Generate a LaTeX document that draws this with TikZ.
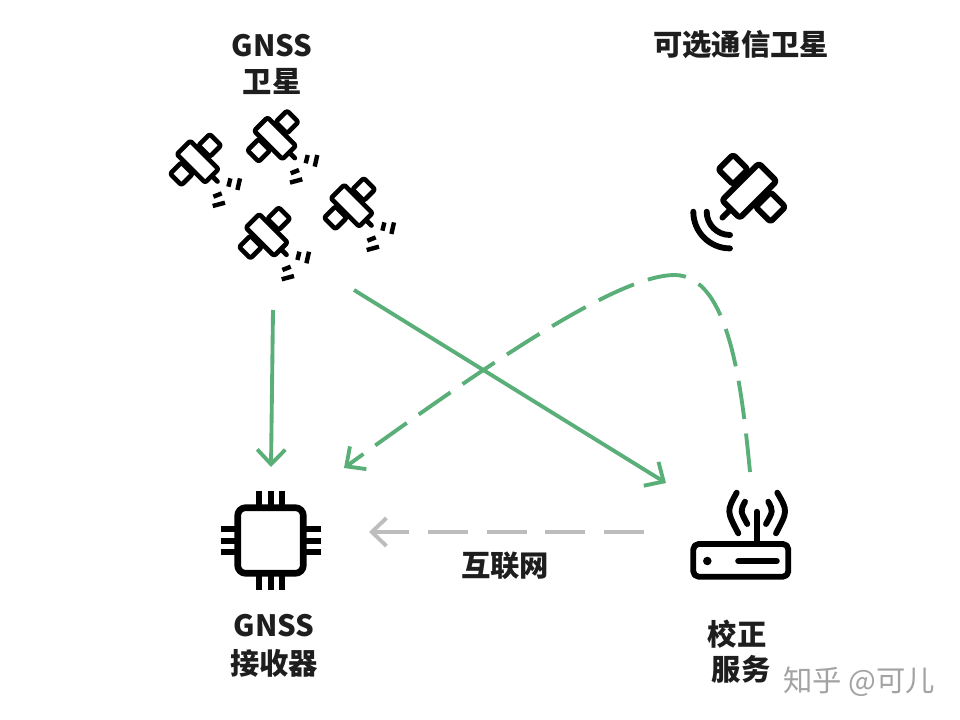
\documentclass[tikz,border=0pt]{standalone}
\usepackage{fontspec}
\setmainfont{Noto Sans CJK SC}
\usetikzlibrary{arrows.meta}
\definecolor{linkgreen}{HTML}{5AAF78}
\definecolor{linkgray}{HTML}{BDBDBD}
\definecolor{inkdark}{HTML}{1E1E1E}
\tikzset{
  icon/.style={draw=black,line width=3.5pt,line join=round,fill=white,rounded corners=1.6pt},
  iconbig/.style={draw=black,line width=4.4pt,line join=round,fill=white,rounded corners=2pt},
  iconline/.style={draw=black,line width=3.5pt,line cap=round},
  iconlinebig/.style={draw=black,line width=4.4pt,line cap=round},
  pin/.style={draw=black,line width=4.6pt},
  tick/.style={draw=black,line width=3.3pt},
  lbl/.style={font=\bfseries\fontsize{22}{26}\selectfont,text=inkdark,inner sep=0pt},
  barb/.tip={Straight Barb[length=11pt,width=21pt,line width=2.9pt]},
  solidlink/.style={draw=linkgreen,line width=2.9pt,-{barb}},
  dashlink/.style={draw=linkgreen,line width=2.9pt,dash pattern=on 29pt off 11pt,-{barb}},
  graylink/.style={draw=linkgray,line width=2.9pt,dash pattern=on 30pt off 14pt,-{barb}},
}
\newcommand{\gnsssat}[2]{%
  \begin{scope}[shift={(#1,#2)}]
    \begin{scope}[rotate=-45]
      \draw[iconline] (19,0) -- (28,0);
      \draw[icon] (-11,-28) rectangle (5,-12);
      \draw[icon] (-11,12) rectangle (5,28);
      \draw[icon] (-20,-9.5) rectangle (20,9.5);
    \end{scope}
    \draw[tick] (30.7,25) -- (32.7,16.7);
    \draw[tick] (39.7,28.3) -- (42.3,16.7);
    \draw[tick] (15.7,35) -- (24,31.7);
    \draw[tick] (15,44.3) -- (27.3,41);
  \end{scope}}
\begin{document}
\begin{tikzpicture}[x=0.75pt,y=-0.75pt]
\useasboundingbox (0,0) rectangle (960,720);
\fill[white] (0,0) rectangle (960,720);

% labels
\node[lbl] (gnssa) at (272,46) {GNSS};
\node[lbl] (gnssb) at (272,81) {卫星};
\node[lbl] (opt) at (741,45) {可选通信卫星};
\node[lbl] (recva) at (274,626) {GNSS};
\node[lbl] (recvb) at (274,663) {接收器};
\node[lbl] (cora) at (737,634) {校正};
\node[lbl] (corb) at (741,669) {服务};
\node[lbl] (net) at (505,566) {互联网};
\node[font=\fontsize{22}{26}\selectfont,text=black!36,inner sep=0pt] (mark) at (859,682) {知乎 @可儿};

% GNSS satellites
\gnsssat{197.7}{161.7}
\gnsssat{275}{138.3}
\gnsssat{266.7}{235}
\gnsssat{351.7}{205.7}

% communication satellite
\begin{scope}[shift={(749.3,190.7)}]
  \begin{scope}[rotate=45]
    \draw[iconlinebig] (-24,0) -- (-38,0);
    \draw[iconbig] (-7,-37) rectangle (14,-16);
    \draw[iconbig] (-7,16) rectangle (14,37);
    \draw[iconbig] (-26,-12.5) rectangle (26,12.5);
  \end{scope}
\end{scope}
\draw[iconlinebig] (693.3,211.7) .. controls (693.3,232) and (709.7,248.4) .. (730,248.4);
\draw[iconlinebig] (706.7,211.7) .. controls (706.7,224.6) and (717.1,235) .. (730,235);

% receiver chip
\foreach \p in {259.3,270.7,282.3}{
  \draw[pin] (\p,491) -- (\p,590);
  }
\foreach \p in {529.3,540.7,552.3}{
  \draw[pin] (220.7,\p) -- (321,\p);
  }
\draw[iconbig,line width=5pt,rounded corners=6pt] (237.7,507.7) rectangle (303.3,573.3);

% router
\draw[iconlinebig] (756.7,511.7) -- (756.7,541.7);
\draw[iconbig,rounded corners=4pt] (693.3,544) rectangle (788.3,576.7);
\fill[black] (707.3,561) circle[radius=3.2pt];
\draw[iconlinebig,line width=4.6pt] (738.3,561) -- (776.7,561);
\draw[iconlinebig] (736.7,492.7) .. controls (726.6,511) .. (738.3,533.3);
\draw[iconlinebig] (745,501.7) .. controls (740.2,511) .. (747.3,524);
\draw[iconlinebig] (777.3,492.7) .. controls (787.8,511) .. (776,533.3);
\draw[iconlinebig] (768.3,501.7) .. controls (773.2,511) .. (766,524);

% connector ends
\coordinate (satdown) at (273,310);
\coordinate (rxtop) at (271,467);
\coordinate (satdiag) at (354,290);
\coordinate (corrtop) at (666,483);
\coordinate (routerup) at (750,472);
\coordinate (rxright) at (344,468);
\coordinate (corrleft) at (644,532);
\coordinate (rxrightb) at (369,532);

\draw[solidlink] (satdown) -- (rxtop);
\draw[solidlink] (satdiag) -- (corrtop);
\draw[dashlink] (routerup) .. controls (742,390) and (730,276) .. (675,275)
  .. controls (620,275) and (500,355) .. (rxright);
\draw[graylink] (corrleft) -- (rxrightb);
\end{tikzpicture}
\end{document}
